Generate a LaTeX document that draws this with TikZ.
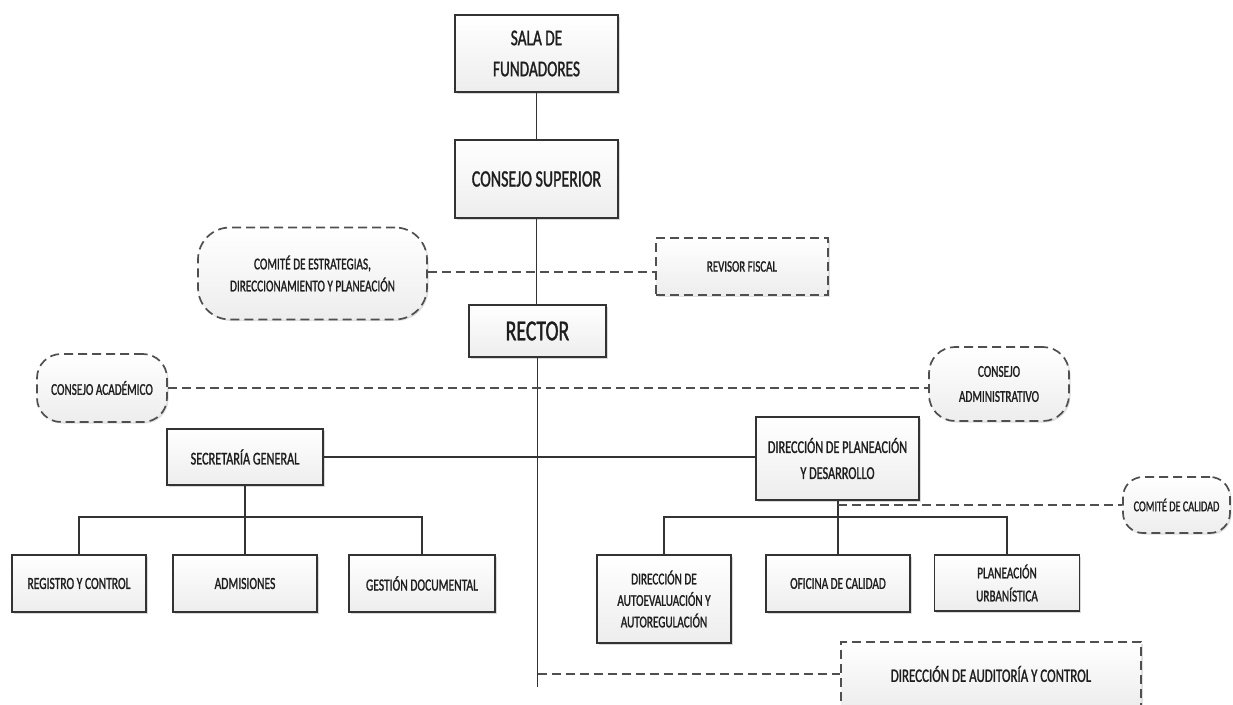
\documentclass[tikz,border=0pt]{standalone}
\usepackage{fontspec}
\setmainfont{Carlito}[FakeStretch=0.68, FakeBold=1.2]
\usetikzlibrary{shadows,calc}
\newcommand\fsz[2]{\fontsize{#1}{#2}\selectfont}
\definecolor{linec}{HTML}{333333}
\definecolor{dashc}{HTML}{4F4F4F}
\definecolor{txtc}{HTML}{1E1E1E}
\tikzset{
  box/.style={draw=linec, line width=1.7pt, top color=white, bottom color=gray!14,
    align=center, inner sep=0pt, text=txtc,
    drop shadow={shadow xshift=1.5pt, shadow yshift=-1.5pt, opacity=0.3}},
  dbox/.style={draw=dashc, line width=1.7pt, dash pattern=on 9pt off 5pt,
    top color=white, bottom color=gray!14, align=center, inner sep=0pt, text=txtc,
    drop shadow={shadow xshift=1.5pt, shadow yshift=-1.5pt, opacity=0.25}},
  rbox/.style={dbox, rounded corners=28pt},
  conn/.style={draw=linec, line width=1.6pt},
  dconn/.style={draw=dashc, line width=1.6pt, dash pattern=on 9pt off 5pt},
}
\begin{document}
\begin{tikzpicture}[x=1pt,y=-1pt]
\useasboundingbox (0,0) rectangle (1233,704);
% nodes
\node[box, minimum width=163pt, minimum height=77pt, font={\fsz{22.5}{31}}] (sala) at (536.5,53.5) {SALA DE\\FUNDADORES};
\node[box, minimum width=163pt, minimum height=78pt, font={\fsz{23.5}{30}}] (consejo) at (536.5,179) {CONSEJO SUPERIOR};
\node[rbox, rounded corners=32pt, minimum width=229pt, minimum height=92pt, font={\fsz{16.5}{22}}] (comite) at (312.5,273.5) {COMITÉ DE ESTRATEGIAS,\\DIRECCIONAMIENTO Y PLANEACIÓN};
\node[dbox, minimum width=172pt, minimum height=57pt, font={\fsz{16}{20}}] (revisor) at (742,266.5) {REVISOR FISCAL};
\node[box, minimum width=137pt, minimum height=52pt, font={\fsz{29}{30}}] (rector) at (537.5,331) {RECTOR};
\node[rbox, rounded corners=24pt, minimum width=130pt, minimum height=68pt, font={\fsz{16.5}{21}}] (academico) at (102,388) {CONSEJO ACADÉMICO};
\node[rbox, rounded corners=26pt, minimum width=140pt, minimum height=74pt, font={\fsz{16.5}{25}}] (administrativo) at (999,384) {CONSEJO\\ADMINISTRATIVO};
\node[box, minimum width=156pt, minimum height=56pt, font={\fsz{18}{22}}] (secretaria) at (245,457) {SECRETARÍA GENERAL};
\node[box, minimum width=163pt, minimum height=83pt, font={\fsz{18}{26}}] (dirplan) at (837.5,458.5) {DIRECCIÓN DE PLANEACIÓN\\Y DESARROLLO};
\node[rbox, rounded corners=20pt, minimum width=107pt, minimum height=56pt, font={\fsz{15}{18}}] (calidad) at (1176.5,505) {COMITÉ DE CALIDAD};
\node[box, minimum width=134pt, minimum height=57pt, font={\fsz{17}{21}}] (registro) at (79,583.5) {REGISTRO Y CONTROL};
\node[box, minimum width=144pt, minimum height=57pt, font={\fsz{17}{21}}] (admisiones) at (245,583.5) {ADMISIONES};
\node[box, minimum width=146pt, minimum height=57pt, font={\fsz{17}{21}}] (gestion) at (422,583.5) {GESTIÓN DOCUMENTAL};
\node[box, minimum width=134pt, minimum height=88pt, font={\fsz{16.5}{21.5}}] (dirauto) at (664,599) {DIRECCIÓN DE\\AUTOEVALUACIÓN Y\\AUTOREGULACIÓN};
\node[box, minimum width=144pt, minimum height=57pt, font={\fsz{16.5}{21}}] (oficina) at (838,583.5) {OFICINA DE CALIDAD};
\node[box, minimum width=145pt, minimum height=56pt, font={\fsz{16.5}{23}}] (planurb) at (1007,583) {PLANEACIÓN\\URBANÍSTICA};
\node[dbox, minimum width=300pt, minimum height=64pt, font={\fsz{19}{22}}] (auditoria) at (991,674) {DIRECCIÓN DE AUDITORÍA Y CONTROL};
% connectors
\draw[conn] (sala) -- (consejo);
\draw[conn] (consejo) -- (consejo.south |- rector.north);
\coordinate (mainend) at (537.5,687);
\draw[conn] (rector.south) -- (mainend);
\draw[dconn] (comite.east |- 0,272) -- (revisor.west |- 0,272);
\draw[dconn] (academico.east) -- (academico.east -| administrativo.west);
\draw[conn] (secretaria.east) -- (secretaria.east -| dirplan.west);
\coordinate (busL) at (245,517);
\draw[conn] (secretaria.south) -- (admisiones.north);
\draw[conn] (registro.north) |- (busL) -| (gestion.north);
\coordinate (busR) at (838,517);
\draw[conn] (dirplan.south -| busR) -- (oficina.north);
\draw[conn] (dirauto.north) |- (busR) -| (planurb.north);
\coordinate (calT) at (838,505);
\draw[dconn] (calT) -- (calT -| calidad.west);
\draw[dconn] (mainend |- auditoria.west) -- (auditoria.west);
\end{tikzpicture}
\end{document}
